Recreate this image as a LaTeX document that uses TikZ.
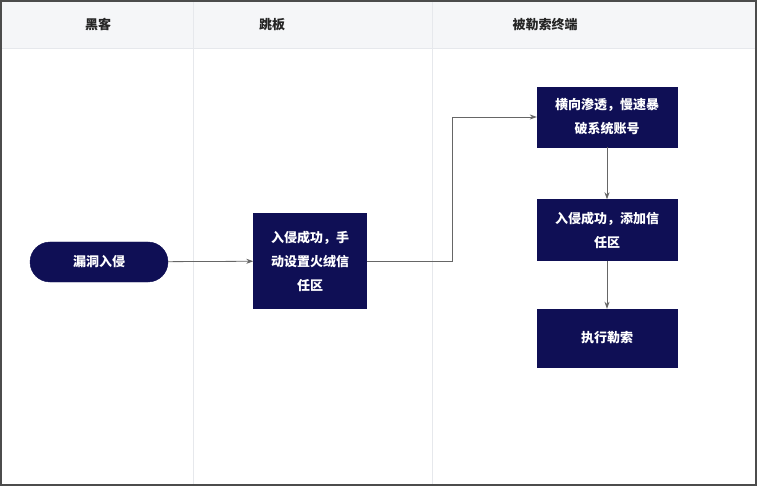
\documentclass[tikz,border=0pt]{standalone}
\usepackage{fontspec}
\setmainfont{Noto Sans CJK SC}
\usetikzlibrary{arrows.meta,positioning}
\definecolor{navy}{HTML}{0F0F55}
\definecolor{headbg}{HTML}{F5F6F8}
\definecolor{laneln}{HTML}{E6E8EC}
\tikzset{
  flowbox/.style={draw=navy, fill=navy, text=white, font=\fontsize{13}{24}\selectfont\bfseries,
    align=center, inner sep=2pt},
  flow/.style={draw=black!60, line width=0.8pt, -{Stealth[length=7pt,width=5pt]}},
  head/.style={font=\fontsize{13}{15}\selectfont\bfseries, text=black!85}
}
\begin{document}
\begin{tikzpicture}[x=1pt, y=-1pt]

                \useasboundingbox (0,0) rectangle (757,486);
                \fill[headbg] (2,2) rectangle (755,48);
                \draw[laneln] (193,2) -- (193,484);
                \draw[laneln] (432,2) -- (432,484);
                \draw[laneln] (2,48) -- (755,48);
                \draw[black!70, line width=1.2pt] (1,1) rectangle (756,485);

                \node[head] (hacker) at (98,25) {黑客};
                \node[head] (jump) at (272,25) {跳板};
                \node[head] (victim) at (545,25) {被勒索终端};

                \node[flowbox, rounded corners=20pt, minimum width=138pt, minimum height=40pt] (entry) at (99,262) {漏洞入侵};
                \node[flowbox, minimum width=113pt, minimum height=95pt] (foothold) at (310,261) {入侵成功，手\\动设置火绒信\\任区};
                \node[flowbox, minimum width=140pt, minimum height=60pt] (lateral) at (607,117) {横向渗透，慢速暴\\破系统账号};
                \node[flowbox, minimum width=140pt, minimum height=61pt] (trust) at (607,230) {入侵成功，添加信\\任区};
                \node[flowbox, minimum width=140pt, minimum height=58pt] (ransom) at (607,338) {执行勒索};

                \draw[flow] (entry) -- (foothold);
                \draw[flow] (foothold.east) -- ++(86,0) |- (lateral.west);
                \draw[flow] (lateral) -- (trust);
                \draw[flow] (trust) -- (ransom);
              \end{tikzpicture}
\end{document}
